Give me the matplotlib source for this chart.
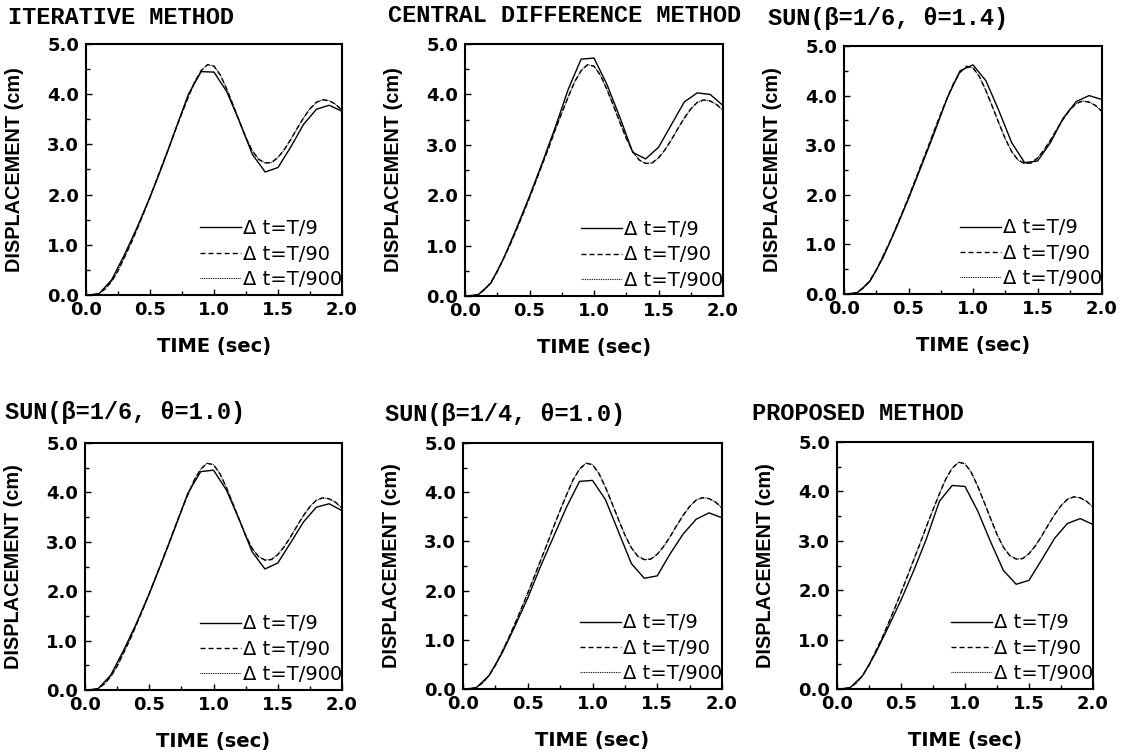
import numpy as np
import matplotlib
matplotlib.use("Agg")
import matplotlib.pyplot as plt
from matplotlib.ticker import MultipleLocator, FormatStrFormatter

# ---------------- data ----------------
titles = ["ITERATIVE METHOD", "CENTRAL DIFFERENCE METHOD", "SUN(β=1/6, θ=1.4)",
          "SUN(β=1/6, θ=1.0)", "SUN(β=1/4, θ=1.0)", "PROPOSED METHOD"]
legend_labels = ["Δ t=T/9", "Δ t=T/90", "Δ t=T/900"]

# fine time steps (dt = T/90 and T/900 results coincide)
t_fine = [0.00, 0.05, 0.10, 0.15, 0.20, 0.25, 0.30, 0.35, 0.40, 0.45, 0.50,
          0.55, 0.60, 0.65, 0.70, 0.75, 0.80, 0.85, 0.90, 0.95, 1.00,
          1.05, 1.10, 1.15, 1.20, 1.25, 1.30, 1.35, 1.40, 1.45, 1.50,
          1.55, 1.60, 1.65, 1.70, 1.75, 1.80, 1.85, 1.90, 1.95, 2.00]
disp_T90 = [0.00, 0.00, 0.03, 0.12, 0.27, 0.48, 0.75, 1.02, 1.32, 1.63, 1.95,
            2.28, 2.62, 2.95, 3.30, 3.63, 3.95, 4.25, 4.47, 4.59, 4.56,
            4.38, 4.10, 3.78, 3.45, 3.13, 2.87, 2.70, 2.63, 2.64, 2.74,
            2.90, 3.10, 3.32, 3.53, 3.71, 3.84, 3.89, 3.87, 3.80, 3.68]
disp_T900 = [0.00, 0.00, 0.03, 0.12, 0.27, 0.48, 0.75, 1.02, 1.32, 1.63, 1.95,
             2.28, 2.62, 2.95, 3.30, 3.63, 3.95, 4.25, 4.47, 4.59, 4.56,
             4.38, 4.10, 3.78, 3.45, 3.13, 2.87, 2.70, 2.63, 2.64, 2.74,
             2.90, 3.10, 3.32, 3.53, 3.71, 3.84, 3.89, 3.87, 3.80, 3.68]

# coarse time step dt = T/9
t_coarse = [0.0, 0.1, 0.2, 0.3, 0.4, 0.5, 0.6, 0.7, 0.8, 0.9, 1.0,
            1.1, 1.2, 1.3, 1.4, 1.5, 1.6, 1.7, 1.8, 1.9, 2.0]
disp_T9_iterative = [0.00, 0.02, 0.30, 0.80, 1.35, 1.95, 2.60, 3.30, 4.00, 4.45, 4.44,
                     4.05, 3.45, 2.80, 2.45, 2.54, 2.95, 3.40, 3.70, 3.78, 3.66]
disp_T9_central = [0.00, 0.02, 0.25, 0.75, 1.35, 1.98, 2.65, 3.35, 4.10, 4.70, 4.72,
                   4.20, 3.55, 2.85, 2.72, 2.95, 3.40, 3.85, 4.03, 4.00, 3.78]
disp_T9_sun_b16_t14 = [0.00, 0.02, 0.25, 0.72, 1.30, 1.92, 2.58, 3.25, 3.95, 4.50, 4.62,
                       4.30, 3.70, 3.05, 2.65, 2.68, 3.05, 3.55, 3.88, 4.00, 3.92]
disp_T9_sun_b16_t10 = [0.00, 0.02, 0.30, 0.80, 1.35, 1.95, 2.60, 3.28, 3.98, 4.42, 4.45,
                       4.05, 3.45, 2.80, 2.45, 2.57, 2.98, 3.40, 3.70, 3.77, 3.63]
disp_T9_sun_b14_t10 = [0.00, 0.02, 0.27, 0.72, 1.27, 1.85, 2.50, 3.10, 3.70, 4.22, 4.24,
                       3.85, 3.20, 2.55, 2.25, 2.30, 2.75, 3.15, 3.45, 3.58, 3.48]
disp_T9_proposed = [0.00, 0.02, 0.27, 0.72, 1.25, 1.80, 2.40, 3.05, 3.80, 4.12, 4.10,
                    3.60, 2.98, 2.40, 2.12, 2.20, 2.62, 3.05, 3.35, 3.45, 3.33]
coarse_series = [disp_T9_iterative, disp_T9_central, disp_T9_sun_b16_t14,
                 disp_T9_sun_b16_t10, disp_T9_sun_b14_t10, disp_T9_proposed]

x_ticks = [0.0, 0.5, 1.0, 1.5, 2.0]
y_ticks = [0.0, 1.0, 2.0, 3.0, 4.0, 5.0]

# ---------------- layout ----------------
W, H = 1126, 754
fig = plt.figure(figsize=(W / 100, H / 100), dpi=100)
fig.patch.set_facecolor("white")

# axes rectangles in pixels: left, top, right, bottom
boxes = [(86, 44, 342, 295), (465, 44, 723, 296), (844, 46, 1102, 294),
         (85, 443, 342, 690), (463, 443, 722, 689), (837, 442, 1093, 689)]
title_pos = [(8, 17), (388, 15), (768, 18), (5, 413), (385, 415), (752, 413)]

title_font = dict(family="Liberation Mono", weight="bold", size=17)
tick_font = dict(family="DejaVu Sans", weight="bold", size=13)

for i, (l, t, r, b) in enumerate(boxes):
    ax = fig.add_axes([l / W, 1 - b / H, (r - l) / W, (b - t) / H])
    ax.plot(t_coarse, coarse_series[i], color="black", lw=1.0, ls="-",
            label=legend_labels[0])
    ax.plot(t_fine, disp_T90, color="black", lw=1.0, ls=(0, (3.6, 2.2)),
            label=legend_labels[1])
    ax.plot(t_fine, disp_T900, color="black", lw=0.8, ls=(0, (0.8, 0.8)),
            label=legend_labels[2])
    ax.set_xlim(0, 2.0)
    ax.set_ylim(0, 5.0)
    ax.set_xticks(x_ticks)
    ax.set_yticks(y_ticks)
    ax.xaxis.set_minor_locator(MultipleLocator(0.25))
    ax.yaxis.set_minor_locator(MultipleLocator(0.5))
    ax.xaxis.set_major_formatter(FormatStrFormatter("%.1f"))
    ax.yaxis.set_major_formatter(FormatStrFormatter("%.1f"))
    ax.tick_params(which="both", direction="in", top=False, right=False,
                   width=1.0)
    ax.tick_params(which="major", length=4.5)
    ax.tick_params(which="minor", length=3)
    ax.tick_params(axis="x", which="major", pad=4)
    ax.tick_params(axis="y", which="major", pad=5)
    for lab in ax.get_xticklabels() + ax.get_yticklabels():
        lab.set_fontfamily(tick_font["family"])
        lab.set_fontweight(tick_font["weight"])
        lab.set_fontsize(tick_font["size"])
    for sp in ax.spines.values():
        sp.set_linewidth(1.5)
    ax.set_ylabel("DISPLACEMENT (cm)", family="Liberation Sans", weight="bold",
                  fontsize=14.3)
    ax.set_xlabel("TIME (sec)", family="DejaVu Sans", weight="bold", fontsize=14)
    ax.yaxis.set_label_coords(-62 / (r - l), 0.5)
    ax.xaxis.set_label_coords(0.5, -42 / (b - t))
    leg = ax.legend(loc="lower right", frameon=False,
                    prop=dict(family="DejaVu Sans", size=14),
                    handlelength=2.1, handletextpad=0.1, labelspacing=0.32,
                    borderaxespad=0.0, borderpad=0.0,
                    bbox_to_anchor=(1.0, 0.025))
    tx, ty = title_pos[i]
    fig.text(tx / W, 1 - ty / H, titles[i], ha="left", va="center",
             **title_font)

fig.savefig("out.png", dpi=100)
